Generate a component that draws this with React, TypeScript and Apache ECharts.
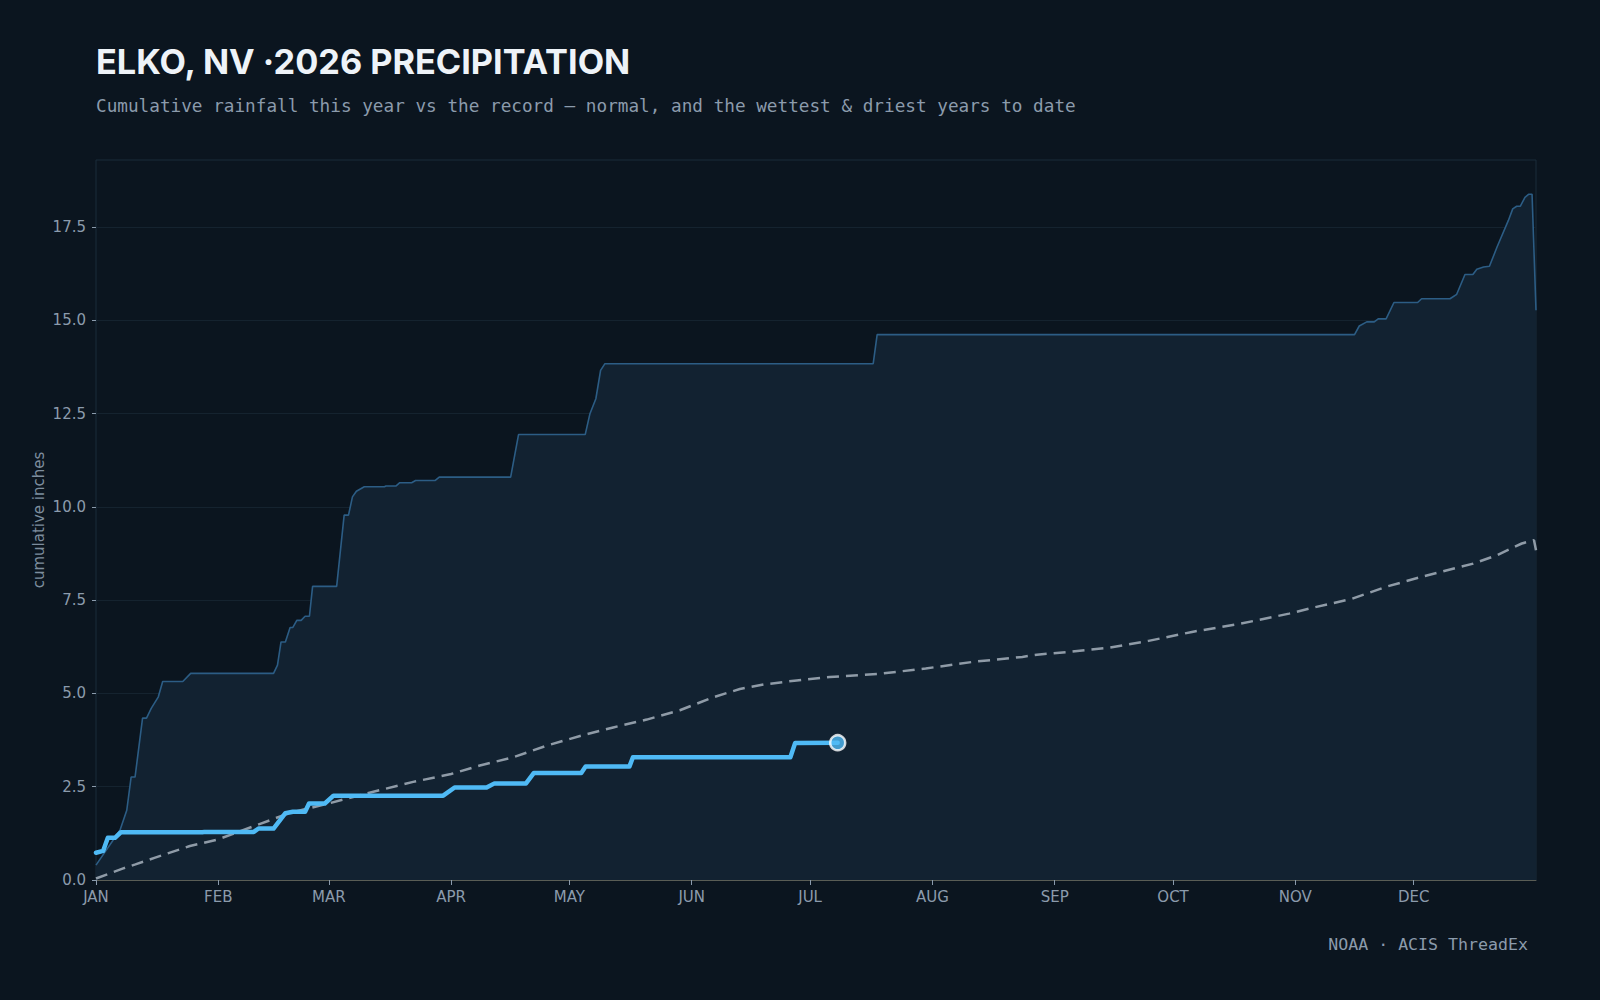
import React, { useEffect, useRef } from "react";
import * as echarts from "echarts";

const monthNames = ["JAN", "FEB", "MAR", "APR", "MAY", "JUN", "JUL", "AUG", "SEP", "OCT", "NOV", "DEC"];
const monthStartDays = [0, 31, 59, 90, 120, 151, 181, 212, 243, 273, 304, 334];
const yTicks = [0, 2.5, 5, 7.5, 10, 12.5, 15, 17.5];

// [day of year, cumulative inches]
const thisYear: [number, number][] = [
  [0, 0.73], [1.8, 0.78], [3.0, 1.13], [4.8, 1.13], [6.3, 1.28], [27, 1.28], [27.5, 1.29], [40, 1.29],
  [41.2, 1.38], [45, 1.38], [48, 1.79], [49.9, 1.83], [53, 1.83], [54, 2.05], [58, 2.05], [60.2, 2.26],
  [88, 2.26], [90.9, 2.48], [99, 2.48], [101, 2.59], [109, 2.59], [111, 2.87], [123, 2.87], [124.1, 3.04],
  [135.2, 3.04], [136.1, 3.29], [176, 3.29], [177.2, 3.67], [188, 3.68],
];

const normal: [number, number][] = [
  [0, 0.04], [6.9, 0.31], [10, 0.42], [15, 0.6], [23.8, 0.91], [31, 1.09], [40.7, 1.47], [49.2, 1.8],
  [58.9, 2.05], [68.6, 2.32], [80.4, 2.63], [90, 2.84], [97.3, 3.07], [105.8, 3.29], [114.2, 3.6],
  [122.7, 3.86], [131.1, 4.09], [139.6, 4.3], [148, 4.55], [156.5, 4.9], [163.2, 5.12], [169.2, 5.24],
  [177.6, 5.35], [186, 5.44], [198, 5.52], [210.3, 5.67], [222.5, 5.85], [234.8, 5.98], [238.5, 6.04],
  [247.1, 6.12], [257, 6.23], [266.8, 6.41], [277.8, 6.65], [290.1, 6.87], [302.4, 7.14], [308.5, 7.3],
  [318.4, 7.54], [327, 7.86], [336.8, 8.15], [349.1, 8.48], [355.2, 8.71], [361.4, 9.02], [364.5, 9.11],
  [365, 8.84],
];

const wettest: [number, number][] = [
  [0, 0.4], [6.1, 1.34], [7.8, 1.87], [8.9, 2.76], [9.9, 2.76], [11.8, 4.34], [12.8, 4.34], [14, 4.6],
  [15.8, 4.91], [16.9, 5.32], [22, 5.32], [24, 5.54], [45, 5.54], [46, 5.76], [46.9, 6.38], [48, 6.38],
  [49.2, 6.77], [49.9, 6.77], [50.9, 6.96], [52, 6.96], [53, 7.07], [54.1, 7.07], [54.9, 7.87], [61, 7.87],
  [62.9, 9.78], [64, 9.78], [65, 10.27], [66, 10.42], [68, 10.54], [73.1, 10.54], [73.5, 10.56], [76, 10.56],
  [77, 10.65], [80, 10.65], [81, 10.71], [86, 10.71], [87, 10.8], [105.1, 10.8], [107.1, 11.94], [124, 11.94],
  [125.2, 12.5], [126.7, 12.9], [127.9, 13.66], [129, 13.84], [197, 13.84], [198, 14.62], [319, 14.62],
  [320.2, 14.85], [322.1, 14.96], [324, 14.96], [325, 15.04], [327, 15.04], [329, 15.48], [335, 15.48],
  [336, 15.58], [343.2, 15.58], [344.9, 15.7], [347, 16.23], [349, 16.23], [350, 16.37], [351.7, 16.43],
  [353.2, 16.45], [355.1, 16.96], [358, 17.68], [359.1, 17.99], [360.1, 18.06], [361, 18.06], [362.2, 18.3],
  [363.1, 18.38], [364, 18.38], [365, 15.27],
];

const BG = "#0b151f";
const LABEL = "#8b9bac";

export default function App() {
  const ref = useRef<HTMLDivElement>(null);
  useEffect(() => {
    const chart = echarts.init(ref.current!, null, { renderer: "svg" });
    const last = thisYear[thisYear.length - 1];
    chart.setOption({
      animation: false,
      backgroundColor: BG,
      grid: {
        left: 96, right: 64, top: 160, bottom: 120,
        show: true, borderColor: "#1b2c3b", borderWidth: 1, backgroundColor: "transparent",
      },
      xAxis: {
        type: "value", min: 0, max: 365,
        axisLine: { show: true, lineStyle: { color: "#5a5d55", width: 1 } },
        axisTick: { show: true, length: 5, customValues: monthStartDays, lineStyle: { color: "#8b9bac" } },
        axisLabel: {
          customValues: monthStartDays, margin: 9, color: LABEL, fontSize: 15, fontFamily: "DejaVu Sans",
          formatter: (v: number) => monthNames[monthStartDays.indexOf(Math.round(v))] ?? "",
        },
        splitLine: { show: false },
      },
      yAxis: {
        type: "value", min: 0, max: 19.3,
        name: "cumulative inches", nameLocation: "middle", nameGap: 50, nameMoveOverlap: false,
        nameTextStyle: { color: "#7d8d9e", fontSize: 15, fontFamily: "DejaVu Sans" },
        axisLine: { show: false },
        axisTick: { show: true, length: 4, customValues: yTicks, lineStyle: { color: "#8b9bac" } },
        axisLabel: {
          customValues: yTicks, margin: 10, color: LABEL, fontSize: 15, fontFamily: "DejaVu Sans",
          formatter: (v: number) => v.toFixed(1),
        },
        splitLine: { show: true, lineStyle: { color: "#15232f", width: 1 } },
      },
      series: [
        {
          type: "line", data: wettest, symbol: "none", z: 2,
          lineStyle: { color: "#2c5d85", width: 1.6 },
          areaStyle: { color: "#122231", opacity: 1 },
        },
        {
          type: "line", data: normal, symbol: "none", z: 3,
          lineStyle: { color: "#8f9ba7", width: 2.5, type: [12, 7] },
        },
        {
          type: "line", data: thisYear, symbol: "none", z: 4,
          lineStyle: { color: "#4fbaf5", width: 4.5, join: "round", cap: "round" },
        },
        {
          type: "scatter", data: [last], z: 5, symbolSize: 15,
          itemStyle: { color: "#4fbaf5", borderColor: "#ffffff", borderWidth: 2.5 },
        },
      ],
      graphic: [
        {
          type: "text", left: 96, top: 44,
          style: { text: "ELKO, NV ·2026 PRECIPITATION", fill: "#eef3f8", font: "bold 34.3px Inter" },
        },
        {
          type: "text", left: 96, top: 97,
          style: {
            text: "Cumulative rainfall this year vs the record — normal, and the wettest & driest years to date",
            fill: "#8b9bac", font: "17.7px 'DejaVu Sans Mono'",
          },
        },
        {
          type: "text", right: 72, top: 936,
          style: { text: "NOAA · ACIS ThreadEx", fill: "#8b9bac", font: "16.6px 'DejaVu Sans Mono'" },
        },
      ],
    });
    return () => chart.dispose();
  }, []);
  return (
    <div
      ref={ref}
      style={{ position: "fixed", left: 0, top: 0, width: 1600, height: 1000, background: BG }}
    />
  );
}
